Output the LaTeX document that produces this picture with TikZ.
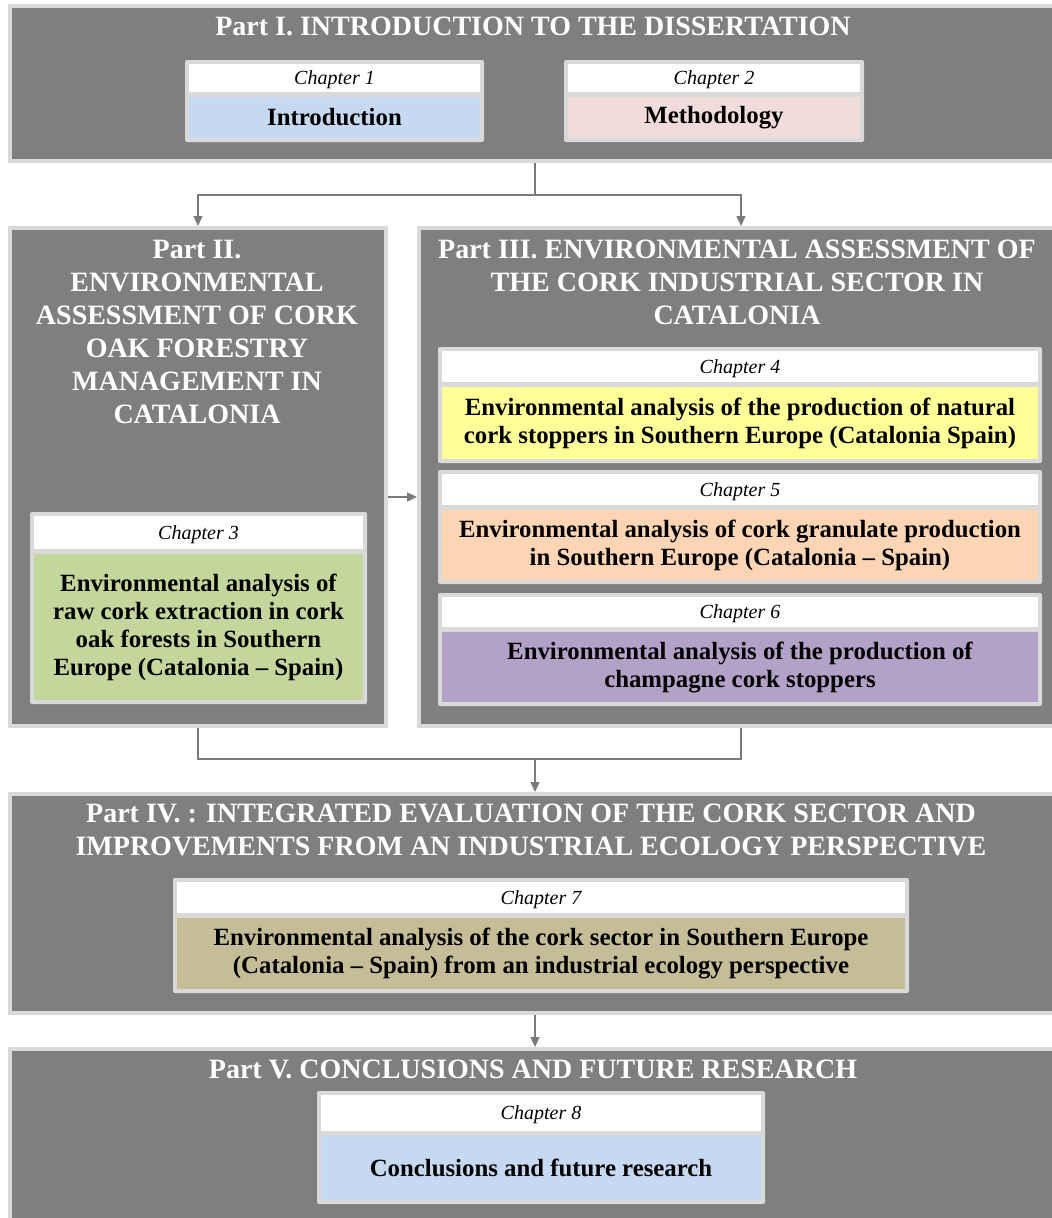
\documentclass[tikz,border=0pt]{standalone}
\usepackage{fontspec}
\setmainfont{Liberation Serif}
\usetikzlibrary{arrows.meta}

\definecolor{partgray}{HTML}{7F7F7F}
\definecolor{rim}{HTML}{D9D9D9}
\definecolor{linkgray}{HTML}{7A7A7A}
\definecolor{chblue}{HTML}{C6D9F1}
\definecolor{chpink}{HTML}{F2DCDB}
\definecolor{chgreen}{HTML}{C3D69B}
\definecolor{chyellow}{HTML}{FFFF99}
\definecolor{chorange}{HTML}{FCD5B5}
\definecolor{chpurple}{HTML}{B3A2C7}
\definecolor{chtan}{HTML}{C4BD97}

% chapter card: name, x1, y1, x2, header height, y2, colour, label, body text
\newcommand\chapbox[9]{%
  \node[chframe, minimum width={#4-#2}, minimum height={#6-#3}] (#1) at (#2,#3) {};
  \node[chhead, minimum width={#4-#2-8}, minimum height={#5}] (#1h) at (#2+4,#3+4) {#8};
  \node[chbody, fill=#7, minimum width={#4-#2-8}, minimum height={#6-#3-#5-13}] (#1b) at (#2+4,#6-4) {#9};
}

\begin{document}
\begin{tikzpicture}[x=1pt,y=-1pt,
  partbox/.style={draw=rim, fill=partgray, line width=4pt, inner sep=0pt, anchor=north west},
  title/.style={text=white, font=\fontsize{28}{33}\bfseries\selectfont, align=center, inner sep=0pt},
  chframe/.style={fill=rim, rounded corners=2pt, inner sep=0pt, outer sep=0pt, anchor=north west},
  chhead/.style={fill=white, inner sep=0pt, outer sep=0pt, anchor=north west, text depth=0pt,
    font=\fontsize{20}{23}\itshape\selectfont},
  chbody/.style={inner sep=0pt, outer sep=0pt, anchor=south west, align=center,
    font=\fontsize{24.8}{28}\bfseries\selectfont},
  link/.style={draw=linkgray, line width=1.4pt},
  arrow/.style={link, -{Triangle[length=10pt,width=9pt]}}
]
\useasboundingbox (0,0) rectangle (1052,1218);
\clip (0,0) rectangle (1052,1218);

% the five parts
\node[partbox, minimum width=1050, minimum height=155] (p1) at (8,4) {};
\node[partbox, minimum width=376, minimum height=498] (p2) at (8,226) {};
\node[partbox, minimum width=644, minimum height=498] (p3) at (417,226) {};
\node[partbox, minimum width=1050, minimum height=219] (p4) at (8,792) {};
\node[partbox, minimum width=1050, minimum height=250] (p5) at (8,1047) {};

% part headings
\node[title, anchor=base] (t1) at (533,35) {Part I. INTRODUCTION TO THE DISSERTATION};
\node[title, anchor=north] (t2) at (197,240) {Part II.\\ENVIRONMENTAL\\ASSESSMENT OF CORK\\OAK FORESTRY\\MANAGEMENT IN\\CATALONIA};
\node[title, anchor=north] (t3) at (737,240) {Part III. ENVIRONMENTAL ASSESSMENT OF\\THE CORK INDUSTRIAL SECTOR IN\\CATALONIA};
\node[title, anchor=north] (t4) at (531,804) {Part IV. : INTEGRATED EVALUATION OF THE CORK SECTOR AND\\IMPROVEMENTS FROM AN INDUSTRIAL ECOLOGY PERSPECTIVE};
\node[title, anchor=base] (t5) at (533,1078) {Part V. CONCLUSIONS AND FUTURE RESEARCH};

% chapters
\chapbox{c1}{185}{60}{484}{28}{142}{chblue}{Chapter 1}{Introduction}
\chapbox{c2}{564}{60}{864}{28}{142}{chpink}{Chapter 2}{Methodology}
\chapbox{c3}{30}{512}{367}{33}{704}{chgreen}{Chapter 3}{Environmental analysis of\\raw cork extraction in cork\\oak forests in Southern\\Europe (Catalonia – Spain)}
\chapbox{c4}{438}{347}{1042}{31}{463}{chyellow}{Chapter 4}{Environmental analysis of the production of natural\\cork stoppers in Southern Europe (Catalonia Spain)}
\chapbox{c5}{438}{470}{1042}{31}{584}{chorange}{Chapter 5}{Environmental analysis of cork granulate production\\in Southern Europe (Catalonia – Spain)}
\chapbox{c6}{438}{593}{1042}{30}{706}{chpurple}{Chapter 6}{Environmental analysis of the production of\\champagne cork stoppers}
\chapbox{c7}{173}{878}{909}{31}{993}{chtan}{Chapter 7}{Environmental analysis of the cork sector in Southern Europe\\(Catalonia – Spain) from an industrial ecology perspective}
\chapbox{c8}{317}{1091}{765}{36}{1204}{chblue}{Chapter 8}{Conclusions and future research}

% connectors
\coordinate (split) at (535,195);
\coordinate (merge) at (535,759);
\coordinate (side) at (400,497);
\draw[link] (p1.south) -- (split);
\draw[arrow] (split) -| (p2.north);
\draw[arrow] (split) -| (p3.north);
\draw[arrow] (p2.east |- side) -- (p3.west |- side);
\draw[link] (p2.south) |- (merge);
\draw[link] (p3.south) |- (merge);
\draw[arrow] (merge) -- (p4.north);
\draw[arrow] (p4.south) -- (p5.north);
\end{tikzpicture}
\end{document}
